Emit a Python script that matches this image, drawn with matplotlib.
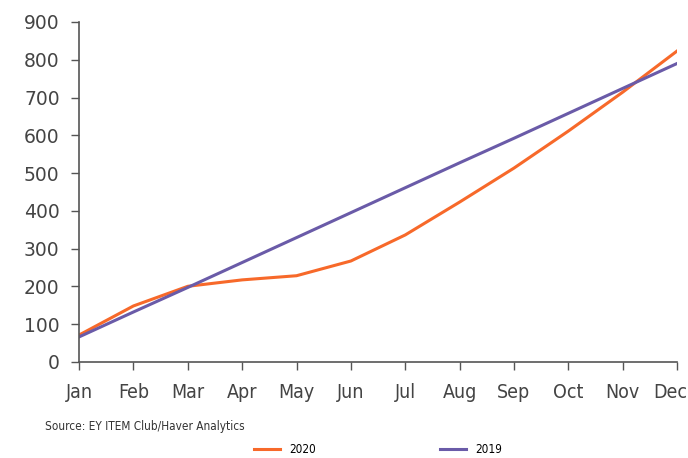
import matplotlib.pyplot as plt
import matplotlib.transforms as mtransforms
from matplotlib.lines import Line2D

months = ['Jan', 'Feb', 'Mar', 'Apr', 'May', 'Jun', 'Jul', 'Aug', 'Sep', 'Oct', 'Nov', 'Dec']
vals_2020 = [71, 148, 200, 217, 228, 267, 336, 423, 513, 611, 714, 823]
vals_2019 = [66, 132, 197, 263, 329, 395, 461, 527, 592, 658, 724, 790]
yticks = [0, 100, 200, 300, 400, 500, 600, 700, 800, 900]

orange = '#F7692A'
purple = '#6A5BA8'
grey = '#444444'
narrow = dict(family='DejaVu Sans', stretch='condensed')

fig = plt.figure(figsize=(6.88, 4.58), dpi=100)
ax = fig.add_axes([0.115, 0.21, 0.869, 0.742])

x = list(range(len(months)))
ax.plot(x, vals_2020, color=orange, lw=2.2, label='2020')
ax.plot(x, vals_2019, color=purple, lw=2.2, label='2019')

ax.set_xlim(0, 11)
ax.set_ylim(0, 900)
ax.set_xticks(x)
ax.set_xticklabels(months, fontsize=14, color=grey, **narrow)
ax.set_yticks(yticks)
ax.set_yticklabels([str(v) for v in yticks], fontsize=13.5, color=grey)
for s in ['top', 'right']:
    ax.spines[s].set_visible(False)
for s in ['left', 'bottom']:
    ax.spines[s].set_color('#555555')
    ax.spines[s].set_linewidth(1.2)
ax.tick_params(axis='both', direction='out', length=6, width=1.0, color='#555555')
ax.tick_params(axis='x', pad=9)
ax.tick_params(axis='y', pad=8)

# nudge last month label left so it fits in the figure
last = ax.get_xticklabels()[-1]
last.set_transform(last.get_transform() + mtransforms.ScaledTranslation(-0.07, 0, fig.dpi_scale_trans))

fig.text(0.065, 0.068, 'Source: EY ITEM Club/Haver Analytics', fontsize=8.5, color='#333333',
         va='center', **narrow)

handles = [Line2D([], [], color=orange, lw=2.2), Line2D([], [], color=purple, lw=2.2)]
fig.legend(handles, ['2020', '2019'], loc='center', bbox_to_anchor=(0.55, 0.018), ncol=2,
           frameon=False, handlelength=2.2, columnspacing=10.5,
           prop={'family': 'DejaVu Sans', 'stretch': 'condensed', 'size': 8.5})

fig.savefig('out.png', dpi=100)
